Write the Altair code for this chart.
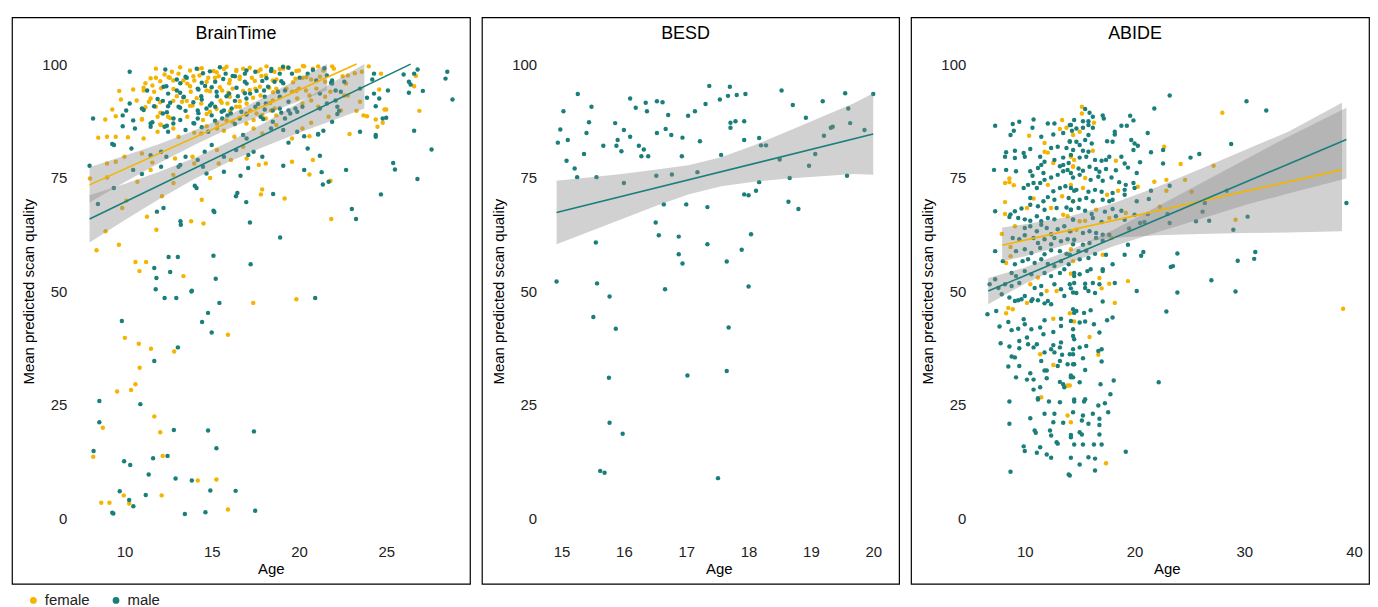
import altair as alt
import pandas as pd

FEMALE_COLOR = "#F4B400"
MALE_COLOR = "#1A7F7A"
BAND_COLOR = "#8C8C8C"
FONT = "Liberation Sans"

SEXES = ["female", "male"]
Y_TICKS = [0, 25, 50, 75, 100]

# ---------------- BrainTime ----------------
BT_FEMALE = [
    (17.38, 47.4), (19.85, 48.2), (15.93, 40.4), (10.02, 39.7), (10.82, 38.4), (11.52, 37.3), (12.85, 36.7),
    (10.87, 33.1), (10.63, 29.5), (10.38, 28.2), (9.58, 27.9), (11.71, 22.4), (8.76, 19.9), (12.05, 18.9),
    (8.21, 13.5), (12.19, 13.7), (14.2, 8.3), (15.27, 8.5), (9.96, 5.0), (12.13, 5.0), (8.67, 3.4), (9.14, 3.4),
    (10.27, 3.2), (15.93, 1.9),
    (8.4, 59.0), (8.92, 63.2), (9.68, 60.2), (10.63, 56.4), (11.24, 56.4), (10.86, 54.4), (13.38, 53.3),
    (17.82, 71.3), (17.89, 72.4), (19.18, 70.4), (14.43, 70.1), (14.91, 74.9), (11.83, 63.5), (11.29, 66.4),
    (13.82, 65.4), (14.53, 64.9), (21.85, 65.9), (21.81, 74.3), (12.81, 73.8), (12.15, 70.9), (10.74, 74.1),
    (10.11, 69.9), (9.87, 68.3), (9.01, 75.0), (8.02, 74.8), (18.1, 78.1),
    (9.7, 94.1), (10.5, 94.4), (11.2, 95.8), (11.1, 94.2), (11.6, 95.3), (11.8, 97.0), (12.3, 97.7), (12.6, 97.0),
    (12.8, 96.4), (13.1, 97.9), (13.6, 95.7), (14.0, 96.4), (14.2, 98.9), (14.3, 97.5), (14.8, 97.0), (15.1, 98.5),
    (15.4, 97.3), (15.7, 98.9), (16.0, 95.8), (16.4, 98.5), (16.6, 96.7), (16.8, 99.0), (17.3, 97.0), (17.8, 98.8),
    (18.1, 97.5), (18.5, 96.4), (12.1, 94.7), (13.8, 93.9), (14.7, 94.2), (15.6, 94.2), (16.2, 94.6), (16.8, 94.1),
    (17.5, 94.6), (17.8, 93.1), (18.3, 94.8), (9.8, 92.2), (10.7, 92.0), (11.4, 91.7), (11.8, 90.6), (12.8, 91.9),
    (13.3, 91.7), (13.9, 90.9), (14.4, 91.3), (14.9, 89.5), (15.5, 92.0), (15.9, 91.3), (16.4, 90.6), (17.0, 91.3),
    (17.2, 89.8), (17.9, 88.8), (18.4, 89.8), (9.3, 90.0), (8.9, 87.8), (9.5, 88.5), (11.0, 87.8), (11.9, 88.4),
    (12.5, 88.4), (13.6, 88.4), (14.5, 87.7), (15.3, 86.9), (16.2, 87.3), (17.0, 89.1), (17.4, 87.7), (18.1, 88.0),
    (8.5, 83.8), (9.0, 84.0), (9.5, 84.0), (10.2, 83.9), (11.1, 83.6), (11.9, 85.1), (12.1, 86.6), (12.8, 85.8),
    (13.1, 84.0), (14.0, 84.9), (14.4, 84.7), (15.3, 85.8), (15.7, 85.3), (16.3, 84.0), (17.4, 85.8), (17.9, 84.7),
    (9.0, 78.1), (9.5, 78.5), (10.0, 79.6), (11.0, 80.3), (11.6, 78.3), (12.9, 79.2), (13.9, 79.6), (15.3, 81.1),
    (16.8, 81.8), (17.7, 77.8), (11.5, 76.7), (12.8, 75.6), (14.0, 78.1), (15.4, 78.1), (16.1, 78.9), (17.0, 79.2),
    (18.6, 98.3), (19.1, 99.0), (20.0, 98.6), (20.3, 99.5), (20.8, 99.0), (21.1, 99.5), (21.4, 98.6), (21.9, 99.5),
    (22.0, 99.0), (19.8, 96.8), (20.2, 97.0), (20.7, 96.6), (21.2, 97.2), (21.5, 96.1), (22.5, 97.3), (22.8, 97.5),
    (23.2, 98.0), (23.6, 98.3), (24.0, 99.5), (24.7, 97.9), (18.7, 94.6), (19.6, 93.9), (20.0, 94.6), (20.4, 94.2),
    (21.0, 94.6), (20.6, 93.1), (21.5, 92.8), (21.8, 93.9), (22.7, 95.7), (22.8, 93.1), (18.5, 92.0), (19.9, 92.4),
    (20.2, 91.3), (20.7, 92.0), (21.1, 90.6), (22.6, 93.1), (23.5, 91.7), (24.6, 94.4), (24.9, 90.0), (25.0, 90.0),
    (18.7, 88.7), (21.7, 88.4), (22.4, 89.8), (23.3, 89.7), (23.7, 88.7), (23.9, 88.5), (24.4, 87.8), (24.8, 87.1),
    (18.7, 86.6), (20.2, 85.8), (20.7, 87.1), (22.9, 84.6), (24.5, 86.2), (26.7, 97.4), (26.6, 95.1), (26.9, 89.7),
    (19.6, 83.6), (20.6, 84.1), (19.6, 78.5), (20.8, 78.9), (20.6, 75.7),
]
BT_FEMALE_CLUSTER = [
    (11.8, 99.0), (12.72, 98.3), (13.19, 99.3), (13.76, 98.6), (14.43, 99.1), (15.28, 98.2), (15.85, 99.4),
    (16.42, 98.7), (17.18, 99.2), (17.66, 98.4), (18.14, 99.5), (18.9, 98.9), (19.37, 99.3), (19.85, 98.5),
    (20.23, 99.6), (11.5, 96.9), (12.05, 96.2), (12.53, 97.1), (13.38, 96.4), (13.95, 97.3), (14.71, 96.1),
    (15.19, 97.0), (16.04, 96.5), (16.61, 97.2), (17.47, 96.3), (17.85, 97.4), (18.71, 96.6), (19.66, 96.0),
    (20.42, 97.1), (11.1, 94.8), (11.7, 93.9), (12.81, 94.5), (13.76, 95.1), (14.9, 94.0), (15.47, 94.9),
    (15.95, 93.7), (17.18, 94.3), (17.76, 95.0), (18.52, 93.8), (19.28, 94.6), (19.85, 94.1), (11.5, 92.4),
    (12.05, 91.6), (13.0, 92.9), (13.57, 91.9), (14.14, 92.5), (15.57, 91.5), (16.04, 92.8), (16.61, 91.8),
    (17.37, 92.6), (18.33, 91.4), (18.9, 92.7), (11.2, 90.5), (12.05, 89.3), (13.76, 90.8), (14.71, 89.0),
    (15.28, 90.1), (16.04, 89.6), (16.61, 90.6), (17.57, 89.1), (18.61, 90.2), (11.0, 87.9), (12.05, 86.7),
    (12.62, 88.1), (14.71, 86.3), (15.85, 87.6), (16.99, 86.9),
]
BT_MALE = [
    (12.30, 48.5), (12.97, 48.5), (13.84, 49.9), (15.44, 47.4), (20.93, 48.5), (9.85, 43.4), (14.79, 45.2),
    (14.45, 43.2), (15.0, 40.9), (13.06, 37.6), (11.71, 34.6), (8.56, 25.8), (10.91, 25.1), (8.56, 21.1),
    (12.83, 19.4), (14.79, 19.3), (17.42, 19.1), (8.23, 14.8), (12.47, 13.7), (11.64, 13.2), (15.27, 15.4),
    (9.98, 12.5), (10.33, 11.7), (11.39, 9.6), (12.93, 8.7), (13.86, 8.3), (9.73, 5.9), (11.22, 5.1), (14.92, 6.1),
    (16.37, 6.0), (10.27, 4.0), (10.51, 2.6), (9.30, 1.2), (9.36, 1.0), (13.46, 0.9), (14.64, 1.3), (17.49, 1.6),
    (8.48, 69.2), (11.71, 55.1), (11.83, 52.9), (11.79, 50.4), (12.62, 54.2), (12.53, 57.5), (13.06, 57.5),
    (13.86, 50.1), (15.10, 57.8), (15.23, 52.7), (17.23, 55.9), (18.92, 61.8), (17.19, 65.1), (16.98, 69.6),
    (16.47, 71.6), (16.39, 70.9), (18.52, 71.4), (14.03, 73.2), (14.13, 72.7), (11.86, 67.5), (12.24, 68.3),
    (13.21, 65.4), (13.23, 64.6), (15.10, 67.7), (15.15, 67.4), (23.03, 68.1), (23.27, 65.9), (24.70, 71.3),
    (26.79, 74.7), (21.70, 74.1), (21.37, 73.5), (9.39, 72.7), (16.65, 75.4), (17.09, 77.1), (20.5, 81.4),
    (10.3, 98.3), (12.4, 95.1), (13.2, 95.8), (13.5, 97.2), (14.5, 98.0), (15.2, 96.1), (15.8, 97.9), (16.2, 97.4),
    (16.9, 97.9), (17.0, 95.7), (17.5, 98.3), (17.9, 96.3), (18.4, 98.5), (12.5, 93.5), (13.0, 94.2), (13.4, 92.8),
    (14.2, 94.6), (14.4, 92.9), (15.0, 94.9), (15.3, 92.9), (16.0, 93.5), (16.5, 92.9), (17.2, 93.5), (18.0, 94.2),
    (10.3, 91.3), (11.0, 90.2), (12.2, 91.9), (12.5, 90.7), (13.1, 90.6), (13.5, 89.7), (14.2, 89.8), (14.7, 90.2),
    (15.2, 90.6), (15.7, 89.8), (16.1, 89.1), (16.7, 89.5), (17.5, 90.6), (18.1, 91.3), (8.2, 88.0), (9.9, 88.7),
    (10.1, 89.8), (10.5, 87.6), (11.5, 86.9), (12.2, 89.1), (12.8, 86.9), (13.2, 87.7), (14.0, 86.9), (14.2, 88.0),
    (15.0, 88.7), (15.6, 88.0), (15.9, 88.7), (16.6, 88.0), (17.8, 88.4), (9.4, 82.2), (9.3, 82.4), (9.9, 86.3),
    (10.6, 85.8), (11.5, 86.2), (12.3, 86.2), (12.5, 85.1), (13.5, 85.5), (14.8, 85.1), (16.8, 84.4), (17.0, 83.6),
    (18.4, 85.8), (8.0, 77.6), (10.4, 81.4), (11.5, 79.9), (12.1, 80.7), (12.4, 79.6), (13.2, 77.8), (13.5, 79.6),
    (14.2, 78.9), (14.6, 80.7), (15.0, 82.2), (15.7, 79.6), (16.4, 81.1), (17.1, 80.0), (17.4, 80.7), (17.9, 79.6),
    (10.5, 76.7), (11.0, 75.8), (12.1, 77.4), (13.1, 77.4), (14.5, 77.4), (14.7, 75.9), (15.7, 76.3),
    (19.4, 99.2), (18.9, 97.9), (19.6, 97.9), (20.5, 97.9), (21.6, 97.5), (18.6, 96.1), (19.1, 95.8), (21.9, 96.4),
    (24.3, 97.9), (24.2, 96.6), (22.6, 96.1), (22.1, 94.2), (21.9, 95.7), (19.2, 94.2), (21.2, 93.5), (22.4, 93.9),
    (23.5, 94.6), (18.9, 92.8), (19.4, 91.7), (21.6, 91.3), (22.1, 92.0), (23.9, 92.6), (24.3, 93.5), (24.6, 92.4),
    (25.1, 94.2), (24.4, 90.7), (18.5, 89.8), (18.9, 90.2), (19.4, 89.8), (19.8, 90.2), (20.2, 90.6), (19.2, 88.0),
    (19.5, 89.1), (19.9, 89.5), (21.2, 90.2), (22.2, 90.6), (22.3, 89.7), (22.2, 89.0), (24.8, 88.0), (25.0, 88.2),
    (18.5, 87.3), (19.1, 85.5), (19.9, 85.1), (21.1, 84.6), (21.4, 85.3), (21.9, 87.3), (23.5, 85.1),
    (26.6, 97.9), (26.8, 98.8), (26.0, 97.7), (26.3, 96.1), (26.4, 95.5), (26.3, 93.7), (27.1, 94.1), (28.4, 96.8),
    (28.5, 98.3), (28.8, 92.2), (24.4, 84.4), (24.4, 84.0), (26.6, 85.3), (19.4, 82.7), (20.3, 84.1), (21.1, 84.5),
    (27.6, 81.2), (19.1, 77.6), (20.3, 76.7), (21.2, 79.8), (21.3, 76.2), (22.7, 76.7), (25.4, 78.2), (25.5, 76.8),
]
BT_MALE_CLUSTER = [
    (12.34, 98.8), (14.14, 99.0), (14.9, 98.4), (15.47, 99.3), (16.99, 98.6), (18.42, 98.9), (19.09, 99.4),
    (20.8, 98.7), (21.46, 99.1), (13.0, 96.6), (13.57, 97.0), (14.43, 95.9), (15.66, 96.7), (16.33, 97.3),
    (16.9, 96.1), (18.14, 96.9), (18.99, 96.2), (20.04, 97.0), (20.99, 96.4), (21.84, 95.9), (11.3, 94.2),
    (12.24, 95.0), (13.19, 93.7), (14.24, 94.4), (14.62, 95.2), (15.28, 93.9), (16.42, 94.8), (16.9, 93.6),
    (17.57, 94.1), (18.23, 95.0), (18.8, 93.9), (11.9, 92.3), (12.62, 91.5), (13.38, 92.7), (13.95, 91.6),
    (14.43, 92.2), (15.0, 91.3), (15.85, 92.9), (16.33, 91.9), (16.99, 92.4), (17.66, 91.2), (18.04, 92.8),
    (11.1, 89.9), (11.7, 90.7), (12.43, 89.4), (13.19, 90.4), (14.24, 89.2), (14.9, 90.9), (15.57, 89.5),
    (16.14, 90.2), (16.99, 88.9), (18.04, 90.0), (18.99, 89.3), (11.6, 87.2), (12.43, 86.4), (12.81, 88.0),
    (13.95, 87.0), (14.43, 86.1), (15.19, 87.5), (16.33, 86.8), (17.95, 87.9),
]
BT_LINE_AGE = {"female": [8.0, 23.3], "male": [8.0, 26.4]}
BT_LINE_Q = {"female": [73.4, 100.0], "male": [65.9, 100.0]}
BT_BAND_AGE = {"female": [8.0, 10, 12, 14, 16, 18, 20, 21.6],
               "male": [8.0, 10, 12, 14, 16, 18, 20, 22, 23.75]}
BT_BAND_LO = {"female": [69.5, 74.0, 78.2, 82.2, 85.8, 88.9, 91.8, 94.2],
              "male": [60.7, 65.6, 70.3, 74.7, 78.5, 81.8, 84.9, 87.7, 90.2]}
BT_BAND_HI = {"female": [77.3, 79.8, 82.4, 85.4, 88.8, 92.7, 96.8, 100.0],
              "male": [71.1, 73.6, 76.3, 79.3, 82.9, 87.0, 91.5, 96.1, 100.0]}

# ---------------- BESD ----------------
BESD_MALE = [
    (15.26, 93.4), (15.03, 89.6), (15.48, 90.6), (14.98, 85.6), (14.94, 82.7), (15.10, 83.3), (15.44, 87.2),
    (15.40, 84.8), (15.36, 80.2), (15.08, 78.7), (15.21, 77.0), (15.25, 75.1), (15.56, 75.1), (15.86, 87.0),
    (16.10, 92.4), (16.19, 90.4), (16.35, 91.5), (16.37, 89.6), (16.53, 91.8), (16.62, 91.6), (16.71, 88.8),
    (16.00, 85.5), (15.90, 83.3), (15.88, 82.0), (15.96, 80.8), (16.10, 84.0), (15.67, 82.0), (16.24, 82.0),
    (16.32, 81.2), (16.28, 79.7), (16.39, 79.7), (16.53, 84.8), (16.67, 85.7), (16.76, 84.4), (16.94, 83.8),
    (16.93, 79.7), (17.03, 88.6), (17.14, 89.6), (17.31, 91.2), (17.37, 95.2), (17.54, 92.2), (17.67, 93.0),
    (17.70, 95.0), (17.81, 93.2), (17.95, 93.4), (17.22, 83.0), (17.71, 87.1), (17.71, 86.0), (17.79, 87.4),
    (17.93, 87.4), (17.93, 83.3), (17.56, 80.0), (18.17, 83.7), (18.20, 82.1), (18.28, 82.1), (18.53, 94.2),
    (18.71, 91.0), (18.92, 88.2), (19.19, 91.8), (19.55, 93.6), (19.60, 90.2), (19.63, 87.0), (19.32, 86.0),
    (19.35, 86.2), (19.21, 84.2), (19.86, 85.5), (20.00, 93.4), (19.07, 80.2), (18.97, 77.6), (18.50, 79.0),
    (16.00, 73.8), (16.52, 75.4), (16.77, 75.7), (17.18, 76.2), (18.17, 74.0), (18.66, 74.9), (19.58, 75.4),
    (17.93, 71.3), (18.00, 71.1), (18.12, 72.1), (18.64, 69.7), (18.80, 68.1), (16.64, 69.1), (17.00, 69.1),
    (17.34, 68.5), (16.51, 65.1), (16.56, 62.3), (16.88, 62.0), (17.34, 60.3), (18.04, 62.5), (17.89, 59.1),
    (16.88, 58.1), (16.94, 56.1), (17.65, 56.5), (15.55, 60.7), (14.92, 52.1), (15.57, 51.7), (15.77, 48.8),
    (16.66, 50.4), (18.00, 51.0), (15.51, 44.3), (15.87, 41.7), (17.68, 42.0), (15.76, 30.9), (17.02, 31.4),
    (17.65, 32.4), (15.77, 21.0), (15.98, 18.6), (15.62, 10.4), (15.69, 10.0), (17.51, 8.8),
]
BESD_LINE_AGE = {"male": [14.92, 20.0]}
BESD_LINE_Q = {"male": [67.3, 84.6]}
BESD_BAND_AGE = {"male": [14.92, 15.43, 15.96, 16.5, 17.03, 17.56, 18.09, 18.63, 19.16, 19.69, 20.0]}
BESD_BAND_LO = {"male": [60.3, 63.0, 65.8, 68.7, 71.3, 73.1, 74.1, 74.8, 75.3, 75.8, 75.6]}
BESD_BAND_HI = {"male": [74.3, 75.0, 75.8, 76.7, 77.7, 79.5, 82.1, 85.2, 88.3, 91.4, 93.6]}

# ---------------- ABIDE ----------------
AB_FEMALE = [
    (13.4, 87.7), (13.2, 85.7), (13.8, 86.0), (10.4, 84.2), (11.8, 82.6), (11.8, 80.7), (12.1, 80.5), (12.6, 78.2),
    (14.4, 77.5), (8.6, 74.8), (8.6, 74.0), (9.0, 73.3), (8.2, 73.8), (12.1, 73.4), (14.2, 73.4), (10.8, 70.4),
    (13.4, 70.9), (14.4, 69.8), (8.2, 69.6), (8.2, 67.0), (10.2, 68.3), (12.4, 68.3), (13.5, 66.8), (13.9, 66.5),
    (9.1, 64.3), (14.2, 63.2), (7.9, 62.6), (8.7, 59.7), (14.2, 59.2), (8.7, 57.7), (8.3, 56.2), (11.2, 53.0),
    (14.2, 53.8), (10.5, 51.5), (12.0, 50.0), (12.9, 50.0),
    (8.3, 45.1), (8.9, 46.0), (8.5, 46.3), (10.2, 47.4), (12.6, 43.9), (14.1, 45.1), (11.4, 36.1), (12.6, 33.7),
    (13.9, 29.2), (11.5, 26.6), (13.9, 22.6), (14.2, 21.1),
    (28.0, 89.3), (15.2, 90.6), (15.2, 89.1), (16.3, 87.1), (15.0, 85.1), (14.4, 84.4), (22.7, 81.8), (16.2, 80.9),
    (14.2, 79.6), (14.5, 78.9), (18.3, 78.7), (24.2, 78.0), (27.2, 77.6), (14.4, 77.4), (15.5, 74.9), (20.3, 73.0),
    (21.8, 74.1), (22.9, 74.5), (24.6, 74.5), (15.3, 72.7), (17.5, 71.2), (18.5, 72.1), (22.9, 72.1), (25.2, 71.9),
    (22.3, 68.6), (16.5, 67.9), (19.2, 67.2), (29.2, 65.7), (15.0, 65.4), (15.5, 65.5), (17.7, 66.1), (14.7, 63.5),
    (17.9, 61.7), (17.1, 58.0), (14.4, 56.6), (16.8, 52.9), (17.7, 51.6), (19.4, 52.2), (17.0, 50.6), (18.2, 47.4),
    (14.5, 43.3), (39.0, 46.1), (15.9, 39.9), (16.7, 36.0), (14.1, 29.2), (17.4, 12.1),
]
AB_MALE = [
    (7.3, 86.4), (8.9, 86.8), (9.5, 87.3), (10.8, 87.8), (10.7, 86.0), (12.1, 86.9), (12.7, 86.9), (14.1, 86.6),
    (9.0, 85.3), (8.7, 84.4), (11.5, 84.0), (12.6, 84.5), (13.5, 84.8), (14.3, 85.3), (14.1, 82.9), (13.8, 81.5),
    (13.0, 81.8), (12.4, 81.5), (10.5, 81.3), (8.3, 80.6), (9.1, 80.9), (9.9, 80.4), (10.0, 79.6), (8.2, 79.6),
    (9.1, 79.3), (11.4, 79.6), (11.8, 78.5), (12.7, 78.9), (13.5, 79.4), (14.2, 80.0), (13.2, 77.5), (13.5, 77.8),
    (14.0, 78.2), (7.2, 76.7), (8.3, 76.7), (9.2, 76.4), (10.5, 76.4), (10.7, 75.4), (11.2, 77.1), (11.5, 77.8),
    (11.7, 76.0), (11.8, 74.5), (12.4, 75.0), (13.0, 75.6), (13.5, 76.4), (13.9, 76.7), (14.2, 76.0), (9.9, 72.7),
    (10.3, 73.4), (10.8, 73.8), (11.1, 72.7), (11.4, 73.8), (12.6, 72.0), (13.2, 72.7), (13.7, 73.1), (14.5, 72.1),
    (10.5, 70.5), (11.7, 69.8), (12.1, 70.7), (12.7, 70.1), (14.0, 70.5), (7.3, 67.6), (8.7, 66.9), (9.1, 67.6),
    (9.7, 68.2), (10.5, 69.0), (11.2, 68.7), (11.8, 67.9), (12.9, 68.3), (13.8, 68.4), (14.2, 67.9), (8.6, 66.3),
    (9.4, 66.1), (10.0, 65.8), (10.5, 65.5), (11.1, 66.5), (11.5, 65.4), (12.1, 66.1), (12.7, 65.8), (14.4, 65.8),
    (10.0, 63.9), (10.5, 64.3), (11.1, 63.2), (11.5, 64.6), (12.0, 63.9), (12.4, 62.5), (13.0, 63.6), (13.6, 64.3),
    (8.9, 61.7), (9.5, 61.4), (10.0, 62.3), (10.8, 61.7), (11.2, 60.6), (11.8, 61.4), (12.4, 60.3), (12.7, 61.7),
    (13.3, 61.0), (13.9, 61.4), (14.4, 60.3), (7.3, 58.8), (9.2, 58.8), (10.0, 59.2), (10.6, 58.4), (11.4, 59.5),
    (11.8, 58.1), (12.4, 59.0), (13.2, 58.8), (13.8, 58.2), (8.0, 56.6), (9.1, 55.9), (9.8, 56.6), (10.3, 57.0),
    (10.9, 56.2), (11.5, 57.0), (12.1, 56.0), (12.7, 55.5), (13.3, 56.6), (14.0, 55.9), (8.8, 54.0), (9.2, 53.3),
    (10.0, 54.4), (10.6, 53.7), (11.8, 54.0), (12.4, 53.3), (13.2, 54.0), (13.6, 54.8), (7.3, 52.6), (6.8, 51.5),
    (7.6, 50.7), (8.2, 51.5), (8.8, 51.1), (9.5, 51.8), (10.9, 50.7), (11.5, 51.1), (12.7, 51.5), (13.3, 50.4),
    (14.1, 51.5), (7.9, 49.3), (8.6, 48.6), (9.4, 48.0), (10.0, 48.9), (10.7, 48.2), (11.5, 49.3), (12.1, 47.8),
    (13.6, 48.9), (14.4, 49.7),
    (6.6, 44.9), (7.4, 45.6), (9.1, 47.8), (9.7, 48.2), (10.6, 47.8), (11.2, 48.0), (11.8, 47.3), (12.4, 47.1),
    (13.3, 43.9), (14.4, 46.0), (7.7, 42.2), (8.5, 43.2), (8.8, 41.4), (9.4, 41.7), (10.0, 42.7), (9.9, 43.8),
    (10.6, 41.6), (11.4, 42.0), (11.8, 43.6), (11.7, 40.5), (12.6, 41.0), (13.3, 42.3), (14.4, 41.6), (7.8, 38.5),
    (8.6, 37.8), (9.5, 39.0), (9.5, 37.4), (10.2, 39.8), (10.3, 38.3), (10.8, 37.6), (11.1, 38.3), (11.8, 36.5),
    (12.4, 37.2), (12.6, 38.1), (12.7, 36.5), (13.2, 37.6), (13.3, 38.7), (13.4, 36.0), (14.1, 36.1), (14.4, 37.2),
    (8.8, 35.6), (9.1, 35.4), (8.5, 33.4), (9.5, 33.5), (11.5, 34.6), (12.0, 32.5), (13.0, 33.5), (13.2, 34.6),
    (13.9, 33.9), (14.4, 33.9), (9.2, 31.0), (10.2, 30.5), (10.8, 30.5), (10.5, 31.9), (11.4, 28.8), (11.8, 32.5),
    (12.0, 30.8), (13.2, 30.0), (13.5, 29.5), (13.6, 28.8), (14.2, 31.0), (10.8, 28.3), (11.2, 26.4), (11.2, 26.1),
    (12.2, 25.7), (13.2, 25.5), (14.5, 26.1), (8.6, 25.7), (8.6, 20.8), (10.5, 22.0), (11.8, 23.0), (12.7, 23.0),
    (12.6, 21.1), (13.5, 21.0), (14.4, 23.3), (10.9, 19.3), (11.0, 18.8), (12.3, 19.3), (12.4, 18.2), (12.9, 16.7),
    (13.0, 16.4), (14.2, 18.3), (9.9, 15.8), (10.0, 14.8), (11.4, 15.6), (11.1, 14.4), (12.0, 14.0), (12.4, 13.3),
    (14.2, 13.3), (8.7, 10.2), (14.0, 9.6),
    (23.2, 93.1), (30.2, 91.8), (32.0, 89.8), (21.8, 90.2), (15.5, 90.1), (15.9, 89.3), (16.2, 88.4), (17.1, 88.7),
    (17.2, 88.0), (14.5, 87.7), (15.3, 87.4), (15.8, 87.4), (14.2, 86.6), (14.7, 85.8), (15.3, 86.0), (15.8, 86.6),
    (16.2, 86.0), (18.8, 86.4), (19.3, 86.4), (19.6, 88.6), (19.9, 87.6), (18.2, 85.1), (18.2, 84.5), (21.2, 84.8),
    (15.8, 84.4), (14.1, 83.0), (14.7, 82.9), (15.0, 82.2), (15.5, 83.3), (16.1, 82.5), (17.5, 83.0), (18.0, 82.9),
    (19.7, 83.3), (20.0, 82.5), (20.3, 82.0), (22.6, 81.1), (21.5, 80.6), (19.9, 81.1), (28.8, 82.4), (14.4, 81.1),
    (15.3, 80.9), (15.8, 80.7), (15.0, 79.4), (15.6, 79.6), (16.4, 78.9), (17.0, 78.7), (17.4, 78.9), (17.7, 79.6),
    (18.8, 79.6), (19.1, 78.1), (20.5, 78.4), (22.6, 78.1), (25.1, 79.4), (25.9, 80.2), (14.9, 77.0), (15.3, 76.5),
    (15.9, 77.4), (16.5, 76.9), (16.8, 76.3), (17.4, 76.9), (18.3, 76.6), (19.4, 77.2), (20.2, 76.0), (14.4, 75.0),
    (15.0, 75.6), (16.0, 74.5), (16.7, 75.2), (17.1, 74.3), (17.9, 75.0), (18.6, 74.0), (19.2, 73.4), (19.9, 73.8),
    (14.2, 72.7), (14.7, 72.3), (15.8, 71.9), (16.4, 72.3), (17.0, 71.9), (18.0, 71.6), (19.1, 72.3), (20.0, 72.7),
    (21.5, 72.1), (23.2, 73.2), (14.4, 69.8), (15.0, 70.1), (15.6, 70.5), (16.2, 69.8), (17.1, 70.1), (17.7, 69.8),
    (18.0, 70.1), (19.1, 71.2), (20.2, 69.8), (21.3, 70.3), (26.4, 69.4), (28.4, 72.1), (14.2, 67.9), (14.9, 68.3),
    (15.5, 67.7), (16.1, 67.0), (17.3, 67.5), (18.0, 68.1), (18.8, 67.7), (20.0, 66.8), (21.2, 67.0), (23.0, 67.0),
    (26.2, 67.5), (30.3, 66.4), (39.3, 69.4), (14.4, 65.7), (16.2, 66.1), (17.0, 65.2), (18.3, 66.5), (19.1, 65.7),
    (19.5, 63.8), (20.5, 65.0), (20.9, 65.2), (23.2, 65.0), (25.6, 65.4), (26.8, 65.5), (29.0, 63.5), (14.1, 63.2),
    (15.3, 62.8), (15.9, 63.2), (16.5, 62.8), (17.1, 62.4), (17.7, 62.4), (14.5, 61.3), (15.3, 60.2), (15.9, 60.6),
    (16.5, 61.7), (17.1, 61.1), (19.4, 60.2), (14.1, 58.0), (14.9, 58.8), (15.6, 58.9), (16.4, 58.2), (17.4, 58.0),
    (19.1, 58.0), (20.6, 57.8), (20.8, 58.6), (23.9, 58.3), (31.0, 58.6), (30.9, 57.1), (29.4, 56.7), (15.0, 57.0),
    (15.8, 57.3), (16.0, 54.8), (17.1, 54.8), (18.0, 55.9), (14.5, 54.0), (14.5, 53.3), (15.0, 53.7), (15.7, 54.4),
    (17.1, 54.4), (23.3, 55.3), (23.5, 55.5), (27.0, 52.4), (14.5, 51.8), (15.5, 51.6), (16.2, 51.8), (16.8, 51.5),
    (18.2, 51.8), (14.2, 50.6), (14.7, 49.6), (15.5, 50.7), (15.8, 50.0), (16.4, 49.6), (20.2, 50.0), (23.9, 49.7),
    (29.2, 49.9), (17.1, 47.7), (14.7, 45.6), (15.4, 45.2), (16.0, 45.8), (14.5, 45.2), (14.2, 43.4), (15.0, 43.1),
    (15.5, 43.3), (16.3, 42.7), (18.0, 44.2), (17.5, 43.6), (22.9, 45.5), (14.4, 40.1), (16.8, 40.9), (14.5, 39.4),
    (15.0, 37.6), (15.6, 37.9), (16.7, 36.8), (17.0, 37.2), (17.0, 34.5), (15.3, 35.2), (14.4, 36.1), (15.5, 32.6),
    (14.5, 33.9), (15.0, 29.9), (14.2, 31.4), (14.4, 31.0), (16.9, 29.5), (18.1, 30.3), (22.2, 29.9), (17.8, 27.3),
    (14.5, 25.7), (15.5, 26.2), (15.4, 25.7), (16.7, 24.8), (17.3, 25.3), (16.2, 23.0), (17.6, 23.3), (15.3, 22.6),
    (15.2, 21.5), (15.8, 20.8), (16.8, 21.9), (16.8, 20.5), (15.0, 18.9), (15.2, 18.4), (16.8, 18.4), (14.2, 17.8),
    (14.5, 16.2), (15.3, 16.2), (16.3, 16.2), (17.0, 16.2), (15.8, 13.4), (16.4, 13.1), (15.0, 11.8), (19.2, 14.6),
    (16.4, 10.5), (14.1, 9.4),
]
AB_LINE_AGE = {"female": [7.94, 38.9], "male": [6.67, 39.3]}
AB_LINE_Q = {"female": [60.1, 76.7], "male": [50.0, 83.4]}
AB_BAND_AGE = {"female": [7.94, 10, 14, 18, 22, 26, 30, 34, 38.9],
               "male": [6.67, 10, 14, 18, 22, 26, 30, 34, 39.3]}
AB_BAND_LO = {"female": [56.5, 57.7, 60.3, 61.7, 62.3, 62.6, 62.8, 62.9, 63.2],
              "male": [47.1, 51.6, 56.1, 59.8, 62.9, 65.9, 68.9, 71.5, 74.8]}
AB_BAND_HI = {"female": [64.0, 64.7, 66.4, 69.3, 72.9, 76.9, 81.0, 85.1, 91.5],
              "male": [52.9, 55.2, 58.9, 63.4, 68.5, 73.7, 78.9, 84.0, 90.4]}

# ---------------- layout settings ----------------
PANEL_HEIGHT = 569
Y_DOMAIN = [-14.47, 110.31]


def make_panel(title, width, x_domain, x_ticks, title_x, female, male,
               line_age, line_q, band_age, band_lo, band_hi):
    pts = [{"age": a, "quality": q, "sex": "female"} for a, q in female]
    pts += [{"age": a, "quality": q, "sex": "male"} for a, q in male]
    lines, bands = [], []
    for sex in line_age:
        for a, q in zip(line_age[sex], line_q[sex]):
            lines.append({"age": a, "quality": q, "sex": sex})
        for a, lo, hi in zip(band_age[sex], band_lo[sex], band_hi[sex]):
            bands.append({"age": a, "lo": lo, "hi": hi, "sex": sex})

    x_axis = alt.Axis(values=x_ticks, title="Age", format="d", titleX=title_x)
    y_axis = alt.Axis(values=Y_TICKS, title="Mean predicted scan quality", format="d")
    x_scale = alt.Scale(domain=x_domain, nice=False, zero=False)
    y_scale = alt.Scale(domain=Y_DOMAIN, nice=False, zero=False)
    c_scale = alt.Scale(domain=SEXES, range=[FEMALE_COLOR, MALE_COLOR])

    points = alt.Chart(pd.DataFrame(pts)).mark_circle(size=20, opacity=1).encode(
        x=alt.X("age:Q", scale=x_scale, axis=x_axis),
        y=alt.Y("quality:Q", scale=y_scale, axis=y_axis),
        color=alt.Color("sex:N", scale=c_scale, legend=alt.Legend(title=None)),
    )
    band = alt.Chart(pd.DataFrame(bands)).mark_area(color=BAND_COLOR, opacity=0.4).encode(
        x=alt.X("age:Q", scale=x_scale, axis=x_axis),
        y=alt.Y("lo:Q", scale=y_scale, axis=y_axis),
        y2="hi:Q",
        detail="sex:N",
    )
    line = alt.Chart(pd.DataFrame(lines)).mark_line(strokeWidth=1.6).encode(
        x=alt.X("age:Q", scale=x_scale, axis=x_axis),
        y=alt.Y("quality:Q", scale=y_scale, axis=y_axis),
        color=alt.Color("sex:N", scale=c_scale, legend=None),
    )
    return alt.layer(points, band, line).properties(
        width=width, height=PANEL_HEIGHT, title=alt.TitleParams(title)
    )


p1 = make_panel("BrainTime", 460, [3.554, 29.80], [10, 15, 20, 25], 260,
                BT_FEMALE + BT_FEMALE_CLUSTER, BT_MALE + BT_MALE_CLUSTER,
                BT_LINE_AGE, BT_LINE_Q, BT_BAND_AGE, BT_BAND_LO, BT_BAND_HI)
p2 = make_panel("BESD", 419, [13.722, 20.415], [15, 16, 17, 18, 19, 20], 238,
                [], BESD_MALE, BESD_LINE_AGE, BESD_LINE_Q, BESD_BAND_AGE, BESD_BAND_LO, BESD_BAND_HI)
p3 = make_panel("ABIDE", 460, [-0.364, 41.36], [10, 20, 30, 40], 257,
                AB_FEMALE, AB_MALE, AB_LINE_AGE, AB_LINE_Q, AB_BAND_AGE, AB_BAND_LO, AB_BAND_HI)

chart = alt.hconcat(p1, p2, p3, spacing=10).properties(
    padding={"left": 3, "top": 7, "right": 0, "bottom": 0}
).configure_view(
    stroke="#000000", strokeWidth=1.2
).configure_axis(
    grid=False, domain=False, ticks=False, tickSize=0,
    labelFont=FONT, labelFontSize=15, labelColor="#222222",
    titleFont=FONT, titleFontSize=15, titleFontWeight="normal", titleColor="#000000",
).configure_axisLeft(
    offset=-58, labelPadding=3, titlePadding=5, titleY=275
).configure_axisBottom(
    offset=-42, labelPadding=3, titlePadding=2
).configure_title(
    font=FONT, fontSize=18, fontWeight="normal", color="#000000", offset=-26, dx=-5, anchor="middle"
).configure_legend(
    orient="none", legendX=14, legendY=578, direction="horizontal",
    labelFont=FONT, labelFontSize=15, labelColor="#222222",
    symbolSize=28, symbolType="circle", columnPadding=18, labelOffset=4,
)

chart.save("out.html", embed_options={"renderer": "svg", "actions": False})
